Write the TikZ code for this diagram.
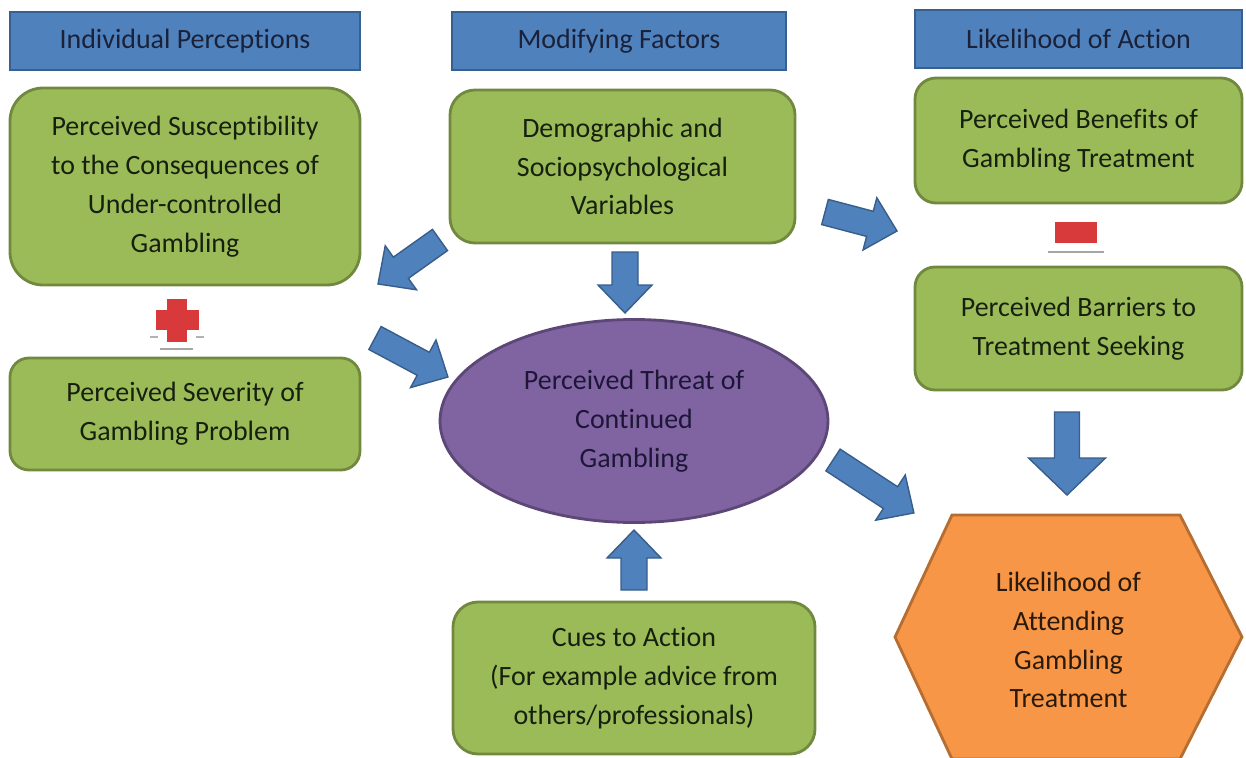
\documentclass[tikz,border=0pt]{standalone}
\usepackage{fontspec}
\setmainfont{Carlito}[Ligatures = NoCommon]
\usetikzlibrary{calc,shapes.geometric}

\definecolor{hdrblue}{HTML}{4F81BD}
\definecolor{hdrline}{HTML}{35608F}
\definecolor{boxgreen}{HTML}{9BBB59}
\definecolor{boxline}{HTML}{71893F}
\definecolor{ellpurple}{HTML}{8064A2}
\definecolor{ellline}{HTML}{5C4776}
\definecolor{hexorange}{HTML}{F79646}
\definecolor{hexline}{HTML}{B66D31}
\definecolor{signred}{HTML}{D83A3C}
\definecolor{arrowblue}{HTML}{4F81BD}
\definecolor{arrowline}{HTML}{385D8A}
\definecolor{hdrtext}{HTML}{1A2138}
\definecolor{boxtext}{HTML}{17200E}
\definecolor{elltext}{HTML}{1E1638}
\definecolor{hextext}{HTML}{2A1A0C}

\tikzset{
    txt/.style = {font = \fontsize{15.9}{22.1}\selectfont, align = center},
    header/.style = {txt, draw = hdrline, fill = hdrblue, line width = 1.2pt,
        text = hdrtext, minimum height = 1.16cm, inner sep = 0pt},
    greenbox/.style = {txt, draw = boxline, fill = boxgreen, line width = 1.6pt,
        rounded corners = 0.45cm, text = boxtext, inner sep = 0pt},
    arrbody/.style n args = {3}{draw = arrowline, fill = arrowblue, line width = 0.8pt,
        line join = miter,
        to path = {let \p1 = (\tikztostart), \p2 = (\tikztotarget),
            \n1 = {atan2(\y2-\y1, \x2-\x1)}, \n2 = {veclen(\x2-\x1, \y2-\y1)} in
            {[shift = {(\p1)}, rotate = \n1]
            (0pt, -#1) -- ({\n2-#3}, -#1) -- ({\n2-#3}, -#2) -- ({\n2+0pt}, 0pt)
            -- ({\n2-#3}, #2) -- ({\n2-#3}, #1) -- (0pt, #1) -- cycle}}},
    blockarr/.style = {arrbody = {0.26cm}{0.54cm}{0.56cm}},
    bigarr/.style = {arrbody = {0.25cm}{0.77cm}{0.74cm}}
}

\begin{document}
\begin{tikzpicture}
    \useasboundingbox (0, 0) rectangle (24.92, 15.14);

    \begin{scope}[xshift = 0.2cm]
        \node [header, minimum width = 7cm] (hIP) at (3.5, 14.32) {Individual Perceptions};
        \node [greenbox, minimum width = 7cm, minimum height = 3.94cm, rounded corners = 0.66cm]
            (bSus) at (3.5, 11.41)
            {Perceived Susceptibility\\to the Consequences of\\Under-controlled\\Gambling};
        % plus sign
        \fill [signred] (2.91, 8.54) rectangle (3.77, 8.94);
        \fill [signred] (3.14, 8.31) rectangle (3.54, 9.17);
        \draw [gray!70, line width = 1.2pt] (3.0, 8.16) -- (3.66, 8.16);
        \draw [gray!60, line width = 1pt] (2.8, 8.4) -- (2.96, 8.4);
        \draw [gray!60, line width = 1pt] (3.72, 8.4) -- (3.88, 8.4);
        \node [greenbox, minimum width = 7cm, minimum height = 2.24cm, rounded corners = 0.38cm]
            (bSev) at (3.5, 6.86) {Perceived Severity of\\Gambling Problem};
    \end{scope}

    \begin{scope}[xshift = 9cm]
        \node [header, minimum width = 6.68cm] (hMF) at (3.38, 14.32) {Modifying Factors};
        \node [greenbox, minimum width = 6.9cm, minimum height = 3.06cm, rounded corners = 0.5cm]
            (bDem) at (3.45, 11.81) {Demographic and\\Sociopsychological\\Variables};
        \node [txt, ellipse, draw = ellline, fill = ellpurple, line width = 1.6pt,
            minimum width = 7.76cm, minimum height = 4.06cm, inner sep = 0pt, text = elltext]
            (ePT) at (3.68, 6.72) {Perceived Threat of\\Continued\\Gambling};
        \node [greenbox, minimum width = 7.24cm, minimum height = 3.04cm, rounded corners = 0.5cm]
            (bCue) at (3.68, 1.58)
            {Cues to Action\\(For example advice from\\others/professionals)};
    \end{scope}

    \begin{scope}[xshift = 18.3cm]
        \node [header, minimum width = 6.54cm] (hLA) at (3.27, 14.36) {Likelihood of Action};
        \node [greenbox, minimum width = 6.54cm, minimum height = 2.5cm, rounded corners = 0.42cm]
            (bBen) at (3.27, 12.33) {Perceived Benefits of\\Gambling Treatment};
        % minus sign
        \fill [signred] (2.8, 10.28) rectangle (3.64, 10.7);
        \draw [gray!70, line width = 1.2pt] (2.66, 10.1) -- (3.78, 10.1);
        \node [greenbox, minimum width = 6.54cm, minimum height = 2.46cm, rounded corners = 0.4cm]
            (bBar) at (3.27, 8.57) {Perceived Barriers to\\Treatment Seeking};
        \draw [fill = hexorange, draw = hexline, line width = 1.6pt, line join = miter]
            (-0.4, 2.4) -- (0.74, 4.84) -- (5.3, 4.84) -- (6.54, 2.4)
            -- (5.3, -0.04) -- (0.74, -0.04) -- cycle;
        \node [txt, text = hextext] (hLAT) at (3.07, 2.34)
            {Likelihood of\\Attending\\Gambling\\Treatment};
    \end{scope}

    % block arrows
    \coordinate (a1s) at (8.8, 10.34);   \coordinate (a1e) at (7.56, 9.46);
    \coordinate (a2s) at (7.5, 8.38);    \coordinate (a2e) at (8.96, 7.6);
    \coordinate (a3s) at (12.5, 10.1);   \coordinate (a3e) at (12.5, 8.88);
    \coordinate (a4s) at (16.5, 10.9);   \coordinate (a4e) at (17.94, 10.52);
    \coordinate (a5s) at (16.66, 5.94);  \coordinate (a5e) at (18.28, 4.88);
    \coordinate (a6s) at (21.34, 6.9);   \coordinate (a6e) at (21.34, 5.24);
    \coordinate (a7s) at (12.68, 3.34);  \coordinate (a7e) at (12.68, 4.54);

    \path [blockarr] (a1s) to (a1e);
    \path [blockarr] (a2s) to (a2e);
    \path [blockarr] (a3s) to (a3e);
    \path [blockarr] (a4s) to (a4e);
    \path [blockarr] (a5s) to (a5e);
    \path [bigarr] (a6s) to (a6e);
    \path [blockarr] (a7s) to (a7e);

\end{tikzpicture}
\end{document}
